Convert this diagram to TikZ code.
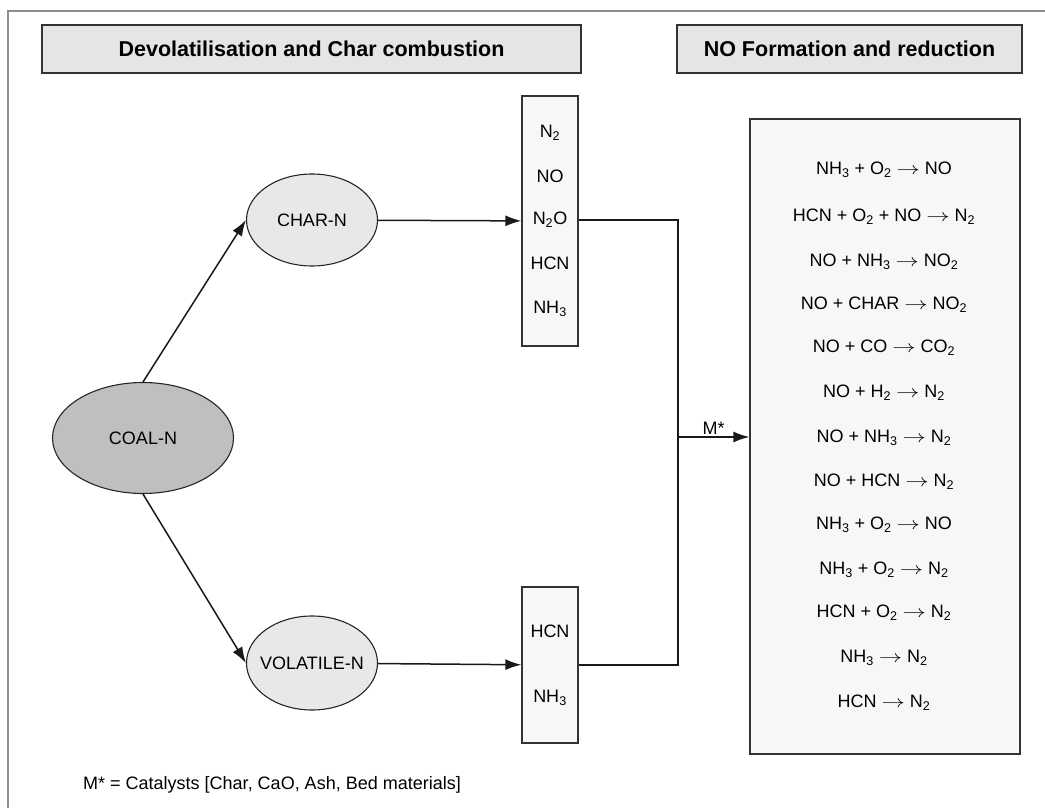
\documentclass[tikz,border=0pt]{standalone}
\usepackage{fontspec}
\setmainfont{Liberation Sans}
\usetikzlibrary{shapes.geometric, arrows.meta, positioning}

\newcommand{\dn}[1]{\textsubscript{#1}}
\newcommand{\yields}{\scalebox{1.35}[1]{$\rightarrow$}}

\begin{document}
\begin{tikzpicture}[x=1pt, y=-1pt, font=\fontsize{18}{21}\selectfont]
        % Setup the styles
        \tikzset{head style/.style={draw=black!80,
                                    line width=1.3pt,
                                    fill=black!10,
                                    minimum height=48pt,
                                    font=\fontsize{21.5}{24}\selectfont\bfseries},
                 list style/.style={draw=black!80,
                                    line width=1.3pt,
                                    fill=black!3,
                                    minimum width=56pt},
                 blob style/.style={ellipse,
                                    draw=black!85,
                                    line width=1.1pt,
                                    inner sep=0pt},
                 link/.style={line width=1.5pt,
                              draw=black!90,
                              -{Latex[length=16pt,width=11pt]}}}

        \useasboundingbox (0,0) rectangle (1045,808);

        % Frame
        \draw[black!45, line width=1.5pt] (8,808) -- (8,11) -- (1045,11);

        % Headers
        \node[head style, minimum width=539pt] at (311.5, 49) (devhead) {Devolatilisation and Char combustion};
        \node[head style, minimum width=345pt] at (849.5, 49) (nohead)  {NO Formation and reduction};

        % Draw the nitrogen sources
        \node[blob style, fill=black!25, minimum width=181pt, minimum height=111pt] at (143, 438) (coal) {COAL-N};
        \node[blob style, fill=black!9, minimum width=131pt, minimum height=92pt] at (312, 220) (charn) {CHAR-N};
        \node[blob style, fill=black!9, inner xsep=-7pt, minimum width=131pt, minimum height=94pt] at (312, 663) (voln) {VOLATILE-N};

        % Product boxes
        \node[list style, minimum height=250pt] at (550, 221) (charbox) {};
        \node at (550, 133) (cn2)  {N\dn{2}};
        \node at (550, 176) (cno)  {NO};
        \node at (550, 220) (cn2o) {N\dn{2}O};
        \node at (550, 263) (chcn) {HCN};
        \node at (550, 309) (cnh3) {NH\dn{3}};

        \node[list style, minimum height=156pt] at (550, 665) (volbox) {};
        \node at (550, 631) (vhcn) {HCN};
        \node at (550, 698) (vnh3) {NH\dn{3}};

        % Reactions
        \node[list style, minimum width=270pt, minimum height=635pt] at (885, 436.5) (eqbox) {};
        \node at (884, 170) (r1)  {NH\dn{3} + O\dn{2} \yields{} NO};
        \node at (884, 217) (r2)  {HCN + O\dn{2} + NO \yields{} N\dn{2}};
        \node at (884, 262) (r3)  {NO + NH\dn{3} \yields{} NO\dn{2}};
        \node at (884, 305) (r4)  {NO + CHAR \yields{} NO\dn{2}};
        \node at (884, 348) (r5)  {NO + CO \yields{} CO\dn{2}};
        \node at (884, 393) (r6)  {NO + H\dn{2} \yields{} N\dn{2}};
        \node at (884, 438) (r7)  {NO + NH\dn{3} \yields{} N\dn{2}};
        \node at (884, 482) (r8)  {NO + HCN \yields{} N\dn{2}};
        \node at (884, 525) (r9)  {NH\dn{3} + O\dn{2} \yields{} NO};
        \node at (884, 570) (r10) {NH\dn{3} + O\dn{2} \yields{} N\dn{2}};
        \node at (884, 613) (r11) {HCN + O\dn{2} \yields{} N\dn{2}};
        \node at (884, 658) (r12) {NH\dn{3} \yields{} N\dn{2}};
        \node at (884, 703) (r13) {HCN \yields{} N\dn{2}};

        % Note
        \node[anchor=west, inner sep=0pt] at (83, 785) (note) {M* = Catalysts [Char, CaO, Ash, Bed materials]};

        % Connect everything
        \coordinate (junc) at (678, 437);
        \draw[link] (coal.north) -- (charn.west);
        \draw[link] (coal.south) -- (voln.west);
        \draw[link] (charn) -- (charbox);
        \draw[link] (voln) -- (volbox);
        \draw[line width=1.5pt, draw=black!90] (charbox.east |- cn2o) -| (junc) |- (volbox.east);
        \draw[link] (junc) -- node[above, inner sep=2pt] {M*} (eqbox.west |- junc);
\end{tikzpicture}
\end{document}
